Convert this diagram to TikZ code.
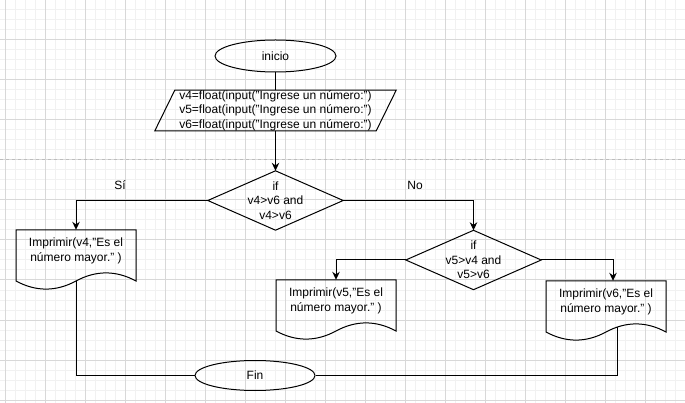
\documentclass[tikz,border=0pt]{standalone}
\usepackage{fontspec}
\setmainfont{Liberation Sans}
\usetikzlibrary{shapes.geometric,arrows.meta,calc}
\definecolor{gridmajor}{HTML}{D8D8D8}
\definecolor{gridminor}{HTML}{F1F1F1}
\definecolor{pagebreak}{HTML}{BDBDBD}
\tikzset{
 lineSty/.style={draw=black, line width=1pt},
 arr/.style={lineSty, -{Stealth[length=8pt,width=7.5pt]}},
 ell/.style={ellipse, draw=black, line width=1pt, inner sep=0pt, font=\fontsize{12}{14.5}\selectfont},
 boxnode/.style={rectangle, draw=none, inner sep=0pt, align=center, font=\fontsize{12}{14.5}\selectfont},
 doctext/.style={align=center, font=\fontsize{12}{15.5}\selectfont, inner sep=0pt},
 lbl/.style={font=\fontsize{12}{14.5}\selectfont, inner sep=0pt},
 gmin/.style={draw=gridminor, line width=1pt},
 gmaj/.style={draw=gridmajor, line width=1pt}
}
\newcommand\docoutline[1]{%
  \draw[lineSty] ($(#1.center)+(-60,-30)$) -- ($(#1.center)+(60,-30)$) -- ($(#1.center)+(60,21)$)
   .. controls ($(#1.center)+(40,10.2)$) and ($(#1.center)+(20,10.2)$) .. ($(#1.center)+(0,21)$)
   .. controls ($(#1.center)+(-20,31.8)$) and ($(#1.center)+(-40,31.8)$) .. ($(#1.center)+(-60,21)$) -- cycle;}
\begin{document}
\begin{tikzpicture}[x=1pt,y=-1pt]
\useasboundingbox (0,0) rectangle (685,403);
\fill[white] (0,0) rectangle (685,403);
% grid
\foreach \gx in {5,15,...,685} \draw[gmin] (\gx,0) -- (\gx,403);
\foreach \gy in {10,20,...,400} \draw[gmin] (0,\gy) -- (685,\gy);
\foreach \gx in {5,45,...,685} \draw[gmaj] (\gx,0) -- (\gx,403);
\foreach \gy in {40,80,...,400} \draw[gmaj] (0,\gy) -- (685,\gy);
\draw[draw=pagebreak, line width=1pt, dash pattern=on 3pt off 3pt] (0,160) -- (685,160);

% nodes
\node[ell, minimum width=121pt, minimum height=32pt] (inicio) at (275.5,56) {inicio};
\node[boxnode, minimum width=241pt, minimum height=39pt] (p) at (275.5,110.5)
  {v4=float(input("Ingrese un número:")\\v5=float(input("Ingrese un número:")\\v6=float(input("Ingrese un número:")};
\draw[lineSty] ($(p.north west)+(20,0)$) -- (p.north east) -- ($(p.south east)+(-20,0)$) -- (p.south west) -- cycle;

\node[boxnode, minimum width=135pt, minimum height=59pt] (d1) at (275.5,200.5) {if\\v4>v6 and\\v4>v6};
\draw[lineSty] (d1.north) -- (d1.east) -- (d1.south) -- (d1.west) -- cycle;

\node[boxnode, minimum width=135pt, minimum height=59pt] (d2) at (473.5,260) {if\\v5>v4 and\\v5>v6};
\draw[lineSty] (d2.north) -- (d2.east) -- (d2.south) -- (d2.west) -- cycle;

\node[boxnode, minimum width=120pt, minimum height=60pt,
  label={[name=doc1t, doctext, yshift=9pt]center:{Imprimir(v4,"Es el\\número mayor." )}}] (doc1) at (76,260) {};
\docoutline{doc1}
\node[boxnode, minimum width=120pt, minimum height=60pt,
  label={[name=doc2t, doctext, yshift=9pt]center:{Imprimir(v5,"Es el\\número mayor." )}}] (doc2) at (336,310) {};
\docoutline{doc2}
\node[boxnode, minimum width=120pt, minimum height=60pt,
  label={[name=doc3t, doctext, yshift=9pt]center:{Imprimir(v6,"Es el\\número mayor." )}}] (doc3) at (606,311) {};
\docoutline{doc3}

\node[ell, minimum width=120pt, minimum height=30pt] (fin) at (255,375.5) {Fin};

\node[lbl] (lsi) at (120,185) {Sí};
\node[lbl] (lno) at (415,185) {No};

\coordinate (doc1b) at ($(doc1.center)+(0,21)$);
\coordinate (doc3b) at ($(doc3.center)+(11,16)$);

% connectors
\draw[lineSty] (inicio.south) -- (p.north);
\draw[arr] (p.south) -- (d1.north);
\draw[arr] (d1.west) -| (doc1.north);
\draw[arr] (d1.east) -| (d2.north);
\draw[arr] (d2.west) -| (doc2.north);
\draw[arr] (d2.east) -| ($(doc3.north)+(7,0)$);
\draw[lineSty] (doc1b) |- (fin.west);
\draw[lineSty] (fin.east) -| (doc3b);
\end{tikzpicture}
\end{document}
